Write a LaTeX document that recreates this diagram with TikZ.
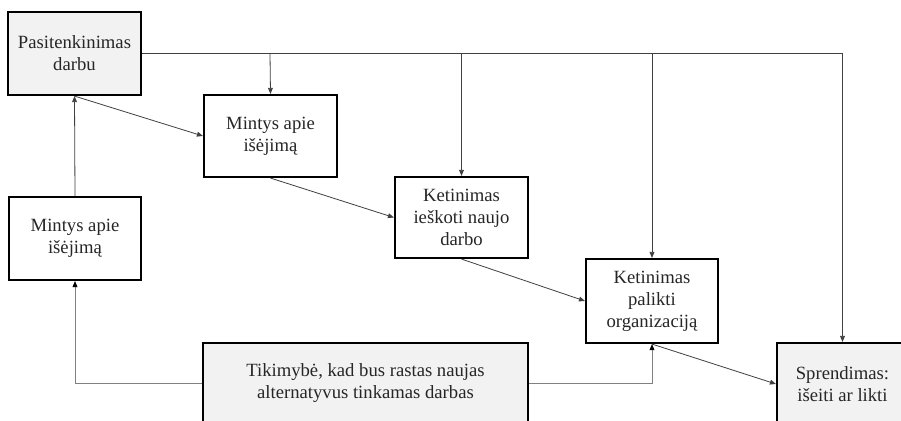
\documentclass[tikz,border=0pt]{standalone}
\usepackage{fontspec}
\setmainfont{Liberation Serif}
\newfontfamily\tnr{Liberation Serif}
\usetikzlibrary{arrows.meta}
\definecolor{boxgray}{HTML}{F2F2F2}
\definecolor{linedark}{HTML}{404040}
\definecolor{linegray}{HTML}{808080}
\tikzset{
  box/.style={draw=black, line width=1.6pt, align=center, inner sep=0pt,
    font=\tnr\fontsize{14}{16.5}\selectfont, text=black!85},
  grayfill/.style={fill=boxgray},
  conn/.style={draw=linedark, line width=0.6pt, -{Triangle[length=4.5pt,width=3.6pt]}},
  plain/.style={draw=linedark, line width=0.6pt},
  connlight/.style={draw=linegray, line width=0.65pt, -{Triangle[length=4.5pt,width=3.6pt,color=black]}}
}
\begin{document}
\begin{tikzpicture}[x=0.75pt,y=-0.75pt]
\useasboundingbox (0,0) rectangle (901,421);
\clip (0,0) rectangle (901,421);
\fill[white] (0,0) rectangle (901,421);

\node[box,grayfill,minimum width=133*0.75pt,minimum height=83*0.75pt] (A) at (74.5,53.5) {Pasitenkinimas\\darbu};
\node[box,minimum width=133*0.75pt,minimum height=82*0.75pt] (B) at (270.5,136) {Mintys apie\\išėjimą};
\node[box,minimum width=133*0.75pt,minimum height=81*0.75pt] (C) at (461.5,217.5) {Ketinimas\\ieškoti naujo\\darbo};
\node[box,minimum width=132*0.75pt,minimum height=84*0.75pt] (D) at (652,301) {Ketinimas\\palikti\\organizaciją};
\node[box,grayfill,minimum width=131*0.75pt,minimum height=82*0.75pt] (E) at (842.5,384) {Sprendimas:\\išeiti ar likti};
\node[box,grayfill,minimum width=325*0.75pt,minimum height=80*0.75pt] (F) at (365.5,383) {Tikimybė, kad bus rastas naujas\\alternatyvus tinkamas darbas};
\node[box,minimum width=132*0.75pt,minimum height=83*0.75pt] (G) at (75,238.5) {Mintys apie\\išėjimą};

\coordinate (t1) at (270,53.5);
\coordinate (t2) at (461.5,53.5);
\coordinate (t3) at (652,53.5);
\coordinate (t4) at (842.5,53.5);

\draw[plain] (A.east) -- (t4);
\draw[conn] (t1) -- (B.north);
\draw[conn] (t2) -- (C.north);
\draw[conn] (t3) -- (D.north);
\draw[conn] (t4) -- (E.north);

\draw[conn] (A.south) -- (B.west);
\draw[conn] (B.south) -- (C.west);
\draw[conn] (C.south) -- (D.west);
\draw[conn] (D.south) -- (E.west);
\draw[conn] (G.north) -- (A.south);

\draw[connlight] (F.west) -| (G.south);
\draw[connlight] (F.east) -| (D.south);
\end{tikzpicture}
\end{document}
